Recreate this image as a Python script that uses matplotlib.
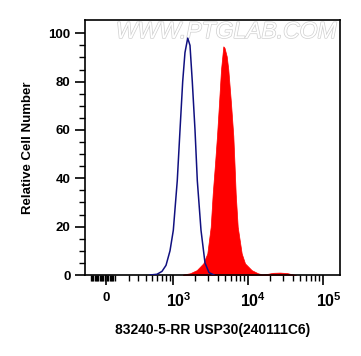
import numpy as np
import matplotlib
matplotlib.use("Agg")
import matplotlib.pyplot as plt
import matplotlib.patheffects as pe
from matplotlib.transforms import ScaledTranslation

plt.rcParams['font.family'] = ['Liberation Sans', 'DejaVu Sans']
plt.rcParams['font.weight'] = 'bold'
plt.rcParams['mathtext.fontset'] = 'custom'
plt.rcParams['mathtext.bf'] = 'Liberation Sans:bold'
plt.rcParams['mathtext.rm'] = 'Liberation Sans:bold'

# control (isotype) histogram, blue line
ctrl_x = [468, 594, 701, 799, 908, 1009, 1143, 1246, 1355, 1455, 1584,
          1701, 1827, 1987, 2134, 2392, 2706, 3060, 3569]
ctrl_y = [0, 0.3, 1.5, 4, 10, 18.5, 39, 60, 80, 92, 98,
          95, 80, 60, 39, 18.5, 5, 1, 0]

# stained sample histogram, red fill
stain_x = [1368, 1701, 2095, 2568, 2905, 3225, 3431, 3682, 3916, 4164, 4430,
           4755, 4933, 5276, 5542, 6022, 6463, 6705, 6958, 7400, 8367, 9262,
           11378, 13800, 15600, 18760, 21880, 27120, 33630, 39220, 44350]
stain_y = [0.2, 0.7, 2, 4.8, 8.9, 19.9, 33.6, 46, 57.6, 71, 85,
           94.6, 94, 90.5, 85, 71, 57.6, 46, 33.6, 19.9, 8.9, 4.8,
           2, 0.7, 0.3, 0.5, 0.9, 1.0, 0.8, 0.3, 0]

x_major = [0, 1e3, 1e4, 1e5]
x_major_labels = ['0', r'$\mathbf{10^{3}}$', r'$\mathbf{10^{4}}$', r'$\mathbf{10^{5}}$']
x_minor = ([v for v in range(-120, 80, 10) if v != 0]
           + list(range(200, 1000, 100)) + list(range(2000, 10000, 1000))
           + list(range(20000, 100000, 10000)))

# biexponential-like display scale
C = 129.0
def fwd(x):
    x = np.asarray(x, dtype=float)
    return np.arcsinh(x / (2 * C)) / np.log(10) + np.log10(C)

def inv(p):
    p = np.asarray(p, dtype=float)
    return 2 * C * np.sinh((p - np.log10(C)) * np.log(10))

fig = plt.figure(figsize=(3.61, 3.56), dpi=100)
ax = fig.add_axes([85 / 361, 81 / 356, 255 / 361, 255 / 356])
ax.set_xscale('function', functions=(fwd, inv))

ax.fill_between(stain_x, stain_y, 0, color='#ff0000', lw=0.5, zorder=2)
ax.plot(ctrl_x, ctrl_y, color='#101080', lw=1.1, zorder=3)

ax.set_xlim(-176, 171000)
ax.set_ylim(0, 105.5)

ax.set_xticks(x_major)
ax.set_xticklabels(x_major_labels)
ax.set_xticks(x_minor, minor=True)
ax.set_yticks([0, 20, 40, 60, 80, 100])
ax.set_yticks(np.arange(5, 105, 5), minor=True)

ax.tick_params(axis='both', which='major', length=7, width=1.2, labelsize=9.5)
ax.tick_params(axis='both', which='minor', length=4, width=1)
ax.tick_params(axis='x', pad=5)
for lab in ax.get_xticklabels()[1:]:
    lab.set_fontsize(11.5)
    lab.set_transform(lab.get_transform() + ScaledTranslation(6 / 100, 0, fig.dpi_scale_trans))
for s in ax.spines.values():
    s.set_linewidth(1.2)

ax.set_ylabel('Relative Cell Number', fontsize=9.5, fontweight='bold', labelpad=10)
ax.set_xlabel('83240-5-RR USP30(240111C6)', fontsize=10, fontweight='bold', labelpad=9)

ax.text(0.985, 0.955, 'WWW.PTGLAB.COM', transform=ax.transAxes, ha='right', va='center',
        fontsize=16.5, fontweight='light', fontstyle='italic', color='white',
        path_effects=[pe.withStroke(linewidth=1.0, foreground='#cfcfcf')], zorder=1)

plt.savefig('out.png', dpi=100)
